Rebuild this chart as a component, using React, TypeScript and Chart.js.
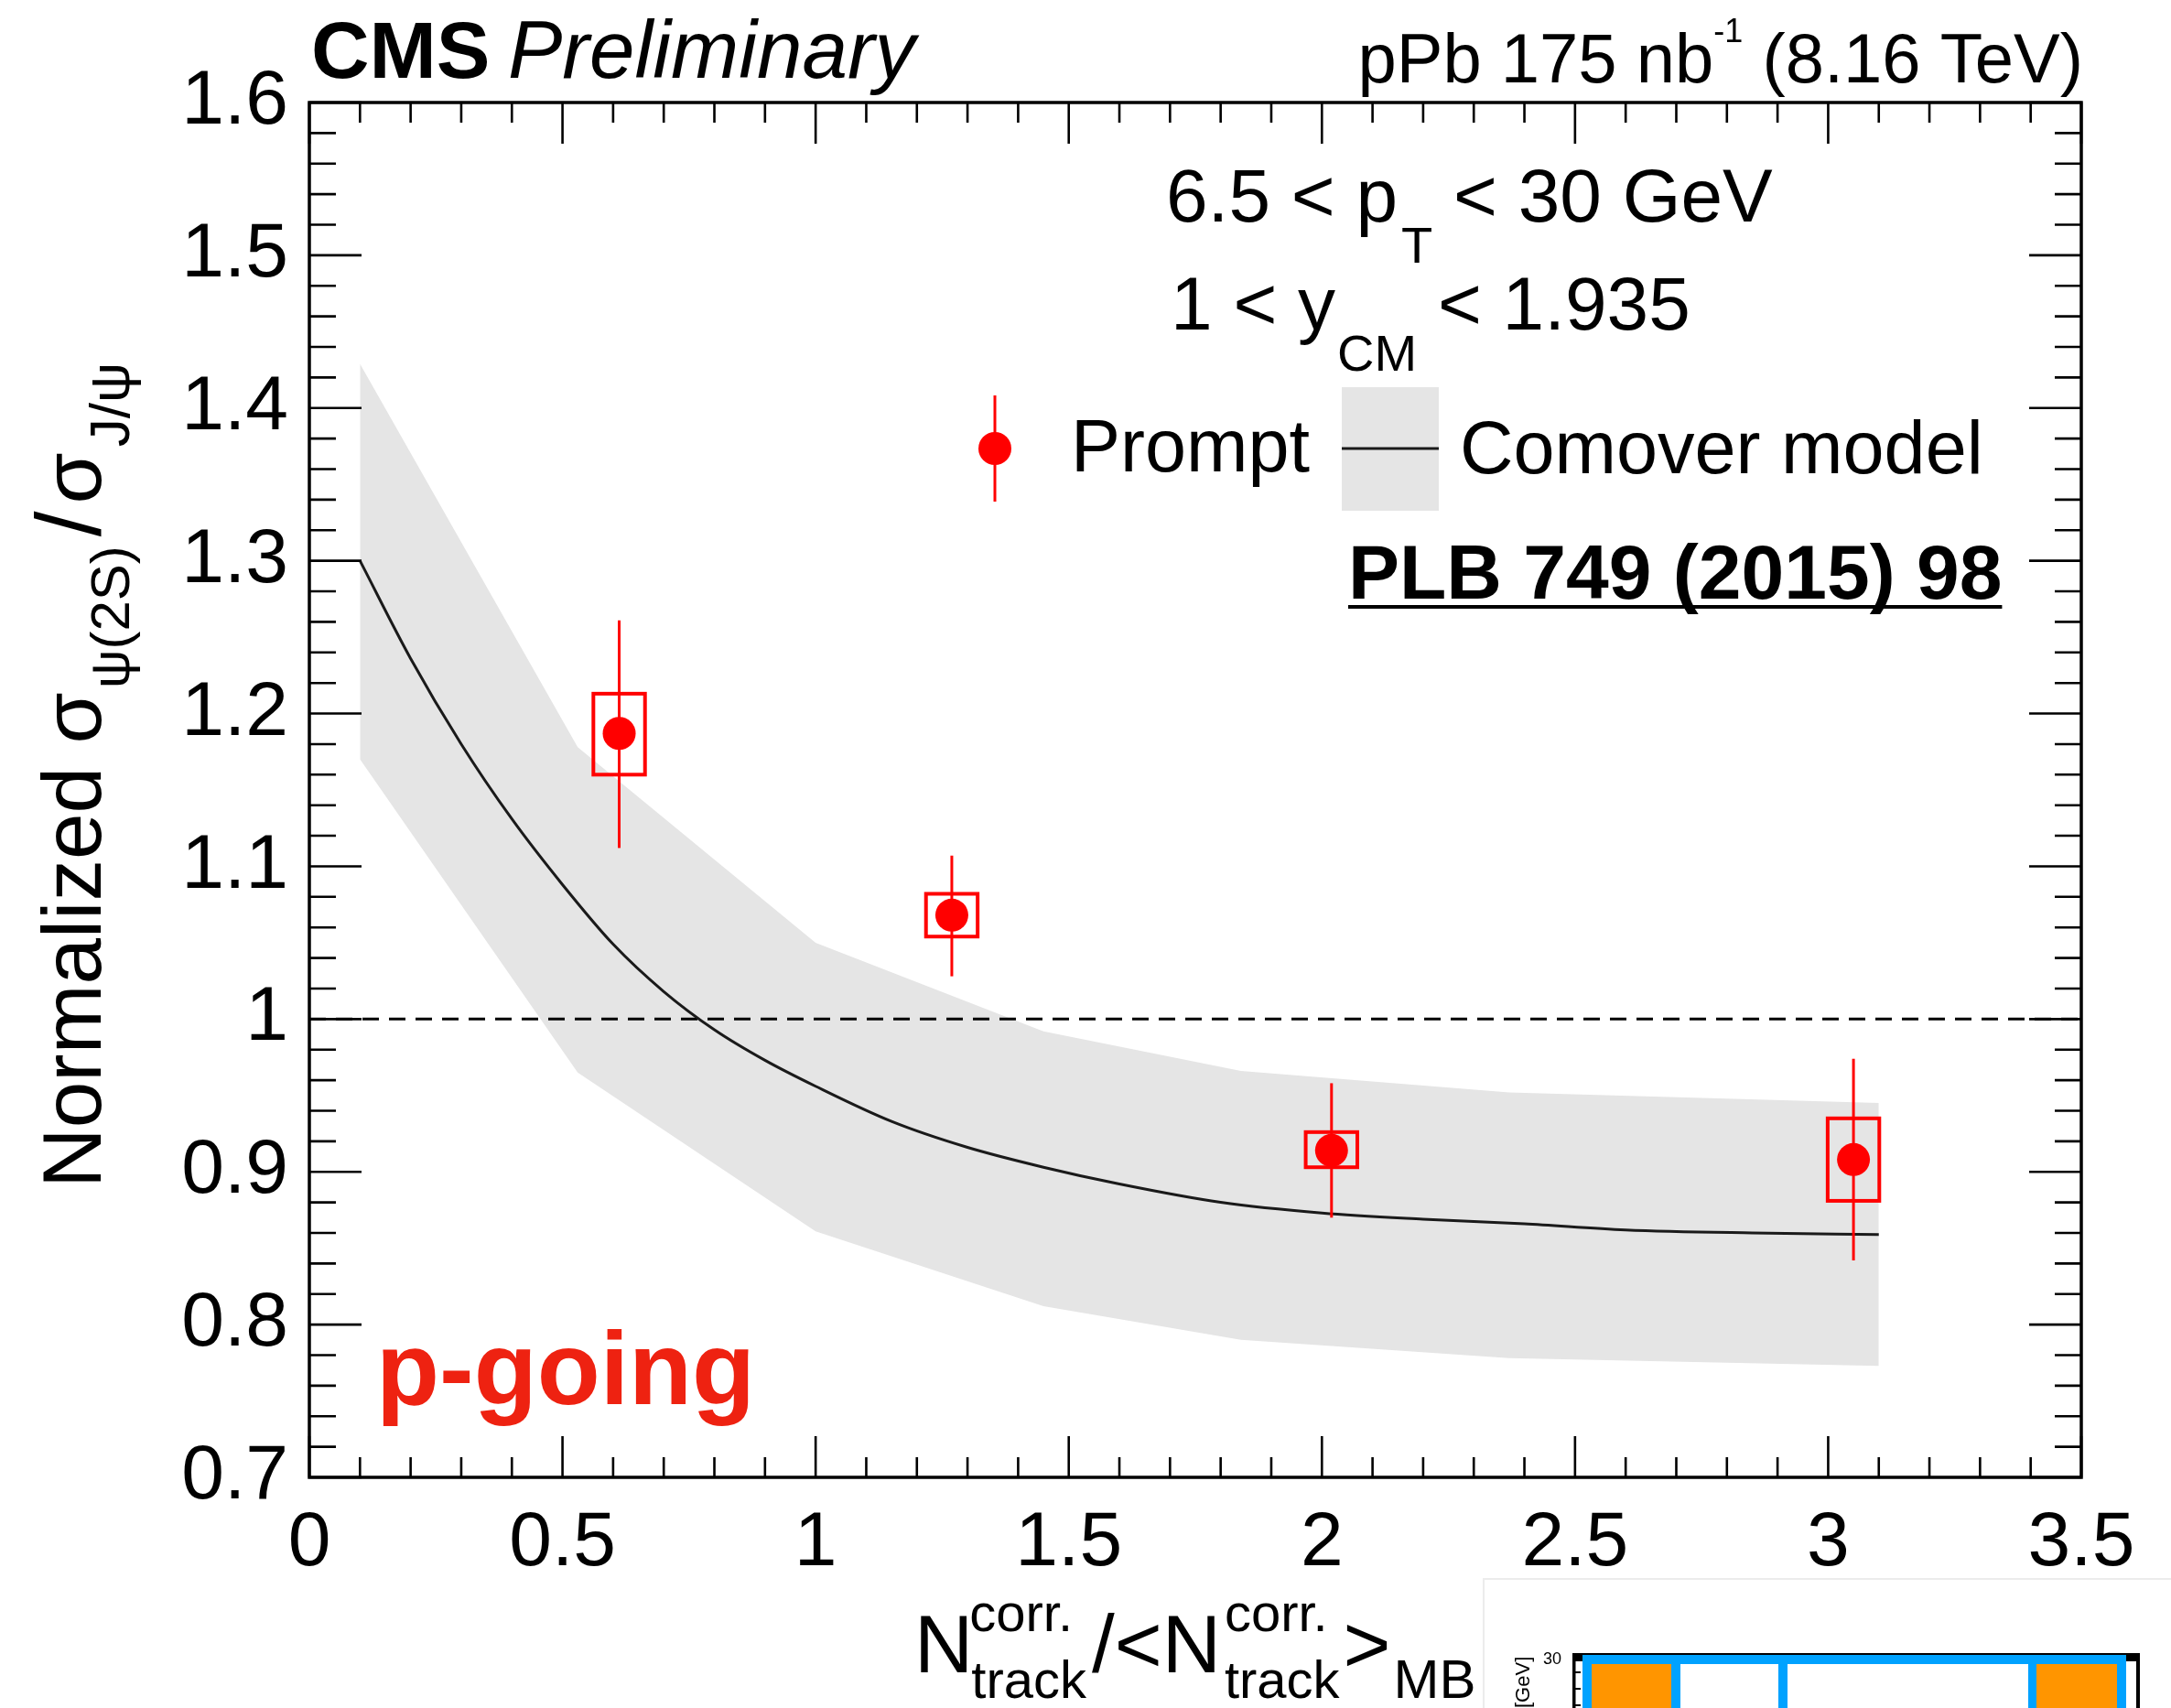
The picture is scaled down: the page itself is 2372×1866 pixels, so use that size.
import React, { useEffect, useRef } from 'react';
import { Chart, registerables } from 'chart.js';

Chart.register(...registerables);

const FONT = '"Liberation Sans", Arial, Helvetica, sans-serif';
const RED = '#ff0000';
const BAND_GREY = '#e5e5e5';

// ---- axis ticks ----
const X_TICKS = [0, 0.5, 1, 1.5, 2, 2.5, 3, 3.5];
const X_TICK_LABELS = ['0', '0.5', '1', '1.5', '2', '2.5', '3', '3.5'];
const Y_TICKS = [0.7, 0.8, 0.9, 1.0, 1.1, 1.2, 1.3, 1.4, 1.5, 1.6];
const Y_TICK_LABELS = ['0.7', '0.8', '0.9', '1', '1.1', '1.2', '1.3', '1.4', '1.5', '1.6'];

// ---- Prompt data (p-going) ----
const PROMPT_X = [0.612, 1.269, 2.019, 3.05];
const PROMPT_Y = [1.187, 1.068, 0.914, 0.908];
const STAT_LO = [1.112, 1.028, 0.87, 0.842];
const STAT_HI = [1.261, 1.107, 0.958, 0.974];
const SYST_LO = [1.16, 1.054, 0.903, 0.881];
const SYST_HI = [1.213, 1.082, 0.926, 0.935];
const SYST_HALF_WIDTH = 0.051;

// ---- Comover model band ----
const BAND_X = [0.1, 0.53, 1.0, 1.45, 1.84, 2.37, 3.1];
const BAND_HI = [1.429, 1.178, 1.05, 0.992, 0.966, 0.952, 0.945];
const BAND_LO = [1.17, 0.965, 0.861, 0.812, 0.79, 0.778, 0.773];

// ---- Comover model central curve ----
const CURVE_X = [0.1, 0.2, 0.3, 0.4, 0.5, 0.6, 0.7, 0.8, 0.9, 1.0, 1.15, 1.3, 1.45, 1.6, 1.8, 2.0, 2.2, 2.4, 2.6, 2.85, 3.1];
const CURVE_Y = [1.3, 1.236, 1.18, 1.131, 1.088, 1.049, 1.018, 0.993, 0.973, 0.956, 0.933, 0.916, 0.903, 0.892, 0.88, 0.873, 0.869, 0.866, 0.862, 0.86, 0.859];

const REF_LINE_Y = 1.0;
const X_RANGE = [0, 3.5];
const Y_RANGE = [0.7, 1.6];

function font(size: number, weight = 'normal', style = 'normal') {
  return `${style} ${weight} ${size}px ${FONT}`;
}

function seg(ctx: CanvasRenderingContext2D, text: string, x: number, y: number, size: number, weight = 'normal', style = 'normal') {
  ctx.font = font(size, weight, style);
  ctx.fillText(text, x, y);
  return x + ctx.measureText(text).width;
}

function widthOf(ctx: CanvasRenderingContext2D, text: string, size: number, weight = 'normal', style = 'normal') {
  ctx.font = font(size, weight, style);
  return ctx.measureText(text).width;
}

const rootPlugin = {
  id: 'rootStyle',
  beforeDatasetDraw(chart: any, args: any) {
    if (args.index !== 0) return;
    const ctx: CanvasRenderingContext2D = chart.ctx;
    const xs = chart.scales.x;
    const ys = chart.scales.y;
    ctx.save();
    ctx.strokeStyle = RED;
    for (let i = 0; i < PROMPT_X.length; i++) {
      const x0 = xs.getPixelForValue(PROMPT_X[i] - SYST_HALF_WIDTH);
      const x1 = xs.getPixelForValue(PROMPT_X[i] + SYST_HALF_WIDTH);
      const y0 = ys.getPixelForValue(SYST_HI[i]);
      const y1 = ys.getPixelForValue(SYST_LO[i]);
      ctx.lineWidth = 4;
      ctx.strokeRect(x0, y0, x1 - x0, y1 - y0);
      const px = xs.getPixelForValue(PROMPT_X[i]);
      ctx.lineWidth = 3;
      ctx.beginPath();
      ctx.moveTo(px, ys.getPixelForValue(STAT_HI[i]));
      ctx.lineTo(px, ys.getPixelForValue(STAT_LO[i]));
      ctx.stroke();
    }
    ctx.restore();
  },
  afterDraw(chart: any) {
    const ctx: CanvasRenderingContext2D = chart.ctx;
    const xs = chart.scales.x;
    const ys = chart.scales.y;
    const { left, right, top, bottom } = chart.chartArea;
    ctx.save();

    // frame
    ctx.strokeStyle = '#000';
    ctx.lineWidth = 3.5;
    ctx.strokeRect(left, top, right - left, bottom - top);

    // ticks on all four sides
    ctx.lineWidth = 2.6;
    ctx.beginPath();
    for (let k = 0; k <= 35; k++) {
      const v = X_RANGE[0] + k * 0.1;
      const px = xs.getPixelForValue(v);
      const len = k % 5 === 0 ? 45 : 22;
      ctx.moveTo(px, bottom);
      ctx.lineTo(px, bottom - len);
      ctx.moveTo(px, top);
      ctx.lineTo(px, top + len);
    }
    for (let k = 0; k <= 45; k++) {
      const v = Y_RANGE[0] + k * 0.02;
      const py = ys.getPixelForValue(v);
      const len = k % 5 === 0 ? 57 : 29;
      ctx.moveTo(left, py);
      ctx.lineTo(left + len, py);
      ctx.moveTo(right, py);
      ctx.lineTo(right - len, py);
    }
    ctx.stroke();

    ctx.fillStyle = '#000';
    ctx.textBaseline = 'alphabetic';
    ctx.textAlign = 'left';

    // CMS Preliminary
    seg(ctx, 'CMS', 340, 85, 88, 'bold');
    seg(ctx, 'Preliminary', 555, 85, 89, 'normal', 'italic');

    // lumi label (right aligned)
    {
      const w = widthOf(ctx, 'pPb 175 nb', 76) + widthOf(ctx, '-1', 36) + widthOf(ctx, ' (8.16 TeV)', 76);
      let x = 2276 - w;
      x = seg(ctx, 'pPb 175 nb', x, 90, 76);
      x = seg(ctx, '-1', x, 46, 36);
      seg(ctx, ' (8.16 TeV)', x, 90, 76);
    }

    // kinematic cuts
    {
      let x = seg(ctx, '6.5 < p', 1274, 242, 82);
      x = seg(ctx, 'T', x + 4, 287, 56);
      seg(ctx, ' < 30 GeV', x, 242, 82);
      x = seg(ctx, '1 < y', 1279, 360, 82);
      x = seg(ctx, 'CM', x + 2, 405, 56);
      seg(ctx, ' < 1.935', x, 360, 82);
    }

    // legend
    {
      ctx.strokeStyle = RED;
      ctx.fillStyle = RED;
      ctx.lineWidth = 3;
      ctx.beginPath();
      ctx.moveTo(1087, 432);
      ctx.lineTo(1087, 548);
      ctx.stroke();
      ctx.beginPath();
      ctx.arc(1087, 490, 18, 0, Math.PI * 2);
      ctx.fill();
      ctx.fillStyle = '#000';
      seg(ctx, 'Prompt', 1170, 515, 81);
      ctx.fillStyle = BAND_GREY;
      ctx.fillRect(1466, 423, 106, 135);
      ctx.strokeStyle = '#1a1a1a';
      ctx.lineWidth = 3;
      ctx.beginPath();
      ctx.moveTo(1466, 490);
      ctx.lineTo(1572, 490);
      ctx.stroke();
      ctx.fillStyle = '#000';
      seg(ctx, 'Comover model', 1595, 517, 81);
      const endX = seg(ctx, 'PLB 749 (2015) 98', 1473, 654, 84, 'bold');
      ctx.fillRect(1473, 661, endX - 1473, 4);
    }

    // p-going
    ctx.fillStyle = '#ee2211';
    seg(ctx, 'p-going', 411, 1534, 113, 'bold');

    // x-axis title
    ctx.fillStyle = '#000';
    {
      const base = 1827;
      const sup = base - 45;
      const sub = base + 28;
      let x = seg(ctx, 'N', 999, base, 89);
      let a = seg(ctx, 'corr.', x - 4, sup, 58);
      let b = seg(ctx, 'track', x - 2, sub, 58);
      x = Math.max(a, b) + 6;
      x = seg(ctx, '/<N', x, base, 89);
      a = seg(ctx, 'corr.', x + 4, sup, 58);
      b = seg(ctx, 'track', x + 4, sub, 58);
      x = Math.max(a, b) + 4;
      x = seg(ctx, '>', x, base, 89);
      seg(ctx, 'MB', x + 3, sub, 60);
    }

    // y-axis title (rotated)
    {
      ctx.save();
      ctx.translate(110, 1298);
      ctx.rotate(-Math.PI / 2);
      let x = seg(ctx, 'Normalized σ', 0, 0, 91);
      x = seg(ctx, 'ψ(2S)', x + 4, 31, 60);
      x = seg(ctx, '/', x + 10, 0, 100);
      x = seg(ctx, 'σ', x + 8, 0, 91);
      seg(ctx, 'J/ψ', x + 6, 31, 62);
      ctx.restore();
    }

    // fragment of a neighbouring figure (bottom right corner)
    {
      ctx.strokeStyle = '#ececec';
      ctx.lineWidth = 2;
      ctx.strokeRect(1621, 1725, 900, 300);
      ctx.fillStyle = '#000';
      ctx.fillRect(1718, 1806, 620, 9);
      ctx.fillRect(1718, 1806, 3.5, 80);
      ctx.fillRect(2334, 1806, 4, 80);
      ctx.fillRect(1718, 1826, 9, 2);
      ctx.fillRect(1718, 1844, 9, 2);
      ctx.fillRect(1718, 1862, 9, 2);
      seg(ctx, '30', 1686, 1818, 18);
      ctx.save();
      ctx.translate(1671, 1866);
      ctx.rotate(-Math.PI / 2);
      seg(ctx, '[GeV]', 0, 0, 22);
      ctx.restore();
      ctx.fillStyle = '#ffffff';
      ctx.fillRect(2323, 1815, 11, 60);
      ctx.fillStyle = '#00a2ff';
      ctx.fillRect(1729, 1808, 594, 10);
      ctx.fillRect(1729, 1808, 10, 70);
      ctx.fillRect(1826, 1808, 10, 70);
      ctx.fillRect(1943, 1808, 10, 70);
      ctx.fillRect(2216, 1808, 9, 70);
      ctx.fillRect(2313, 1808, 10, 70);
      ctx.fillStyle = '#ff9500';
      ctx.fillRect(1739, 1818, 87, 60);
      ctx.fillRect(2225, 1818, 88, 60);
    }

    ctx.restore();
  },
};

export default function App() {
  const canvasRef = useRef<HTMLCanvasElement | null>(null);

  useEffect(() => {
    document.body.style.margin = '0';
    const canvas = canvasRef.current;
    if (!canvas) return;

    const pts = (xs: number[], ys: number[]) => xs.map((x, i) => ({ x, y: ys[i] }));

    const chart = new Chart(canvas, {
      type: 'line',
      data: {
        datasets: [
          {
            label: 'Prompt',
            data: pts(PROMPT_X, PROMPT_Y),
            showLine: false,
            pointRadius: 18,
            pointBackgroundColor: RED,
            pointBorderWidth: 0,
            borderColor: RED,
          } as any,
          {
            label: 'Comover model',
            data: pts(CURVE_X, CURVE_Y),
            borderColor: '#1a1a1a',
            borderWidth: 3,
            pointRadius: 0,
            cubicInterpolationMode: 'monotone',
            fill: false,
          },
          {
            label: 'ref',
            data: [{ x: X_RANGE[0], y: REF_LINE_Y }, { x: X_RANGE[1], y: REF_LINE_Y }],
            borderColor: '#000',
            borderWidth: 3,
            borderDash: [18, 11],
            pointRadius: 0,
            fill: false,
          },
          {
            label: 'band hi',
            data: pts(BAND_X, BAND_HI),
            borderWidth: 0,
            borderColor: 'rgba(0,0,0,0)',
            backgroundColor: BAND_GREY,
            pointRadius: 0,
            tension: 0,
            fill: '+1',
          },
          {
            label: 'band lo',
            data: pts(BAND_X, BAND_LO),
            borderWidth: 0,
            borderColor: 'rgba(0,0,0,0)',
            pointRadius: 0,
            tension: 0,
            fill: false,
          },
        ],
      },
      options: {
        responsive: false,
        animation: false,
        devicePixelRatio: 1,
        layout: { padding: { left: 0, top: 112, right: 98, bottom: 0 } },
        plugins: {
          legend: { display: false },
          tooltip: { enabled: false },
          title: { display: false },
        },
        scales: {
          x: {
            type: 'linear',
            min: X_RANGE[0],
            max: X_RANGE[1],
            afterBuildTicks: (s: any) => {
              s.ticks = X_TICKS.map((v) => ({ value: v }));
            },
            afterFit: (s: any) => {
              s.height = 1866 - 1614;
            },
            grid: { display: false, drawTicks: false },
            border: { display: false },
            ticks: {
              padding: 22,
              color: '#000',
              font: { family: FONT, size: 84 },
              maxRotation: 0,
              autoSkip: false,
              callback: (_v: any, i: number) => X_TICK_LABELS[i],
            },
          },
          y: {
            type: 'linear',
            min: Y_RANGE[0],
            max: Y_RANGE[1],
            afterBuildTicks: (s: any) => {
              s.ticks = Y_TICKS.map((v) => ({ value: v }));
            },
            afterFit: (s: any) => {
              s.width = 338;
            },
            grid: { display: false, drawTicks: false },
            border: { display: false },
            ticks: {
              padding: 23,
              color: '#000',
              font: { family: FONT, size: 84 },
              autoSkip: false,
              callback: (_v: any, i: number) => Y_TICK_LABELS[i],
            },
          },
        },
      } as any,
      plugins: [rootPlugin],
    });

    return () => chart.destroy();
  }, []);

  return (
    <div style={{ position: 'fixed', left: 0, top: 0, width: 2372, height: 1866, background: '#fff' }}>
      <canvas ref={canvasRef} width={2372} height={1866} style={{ display: 'block', width: 2372, height: 1866 }} />
    </div>
  );
}
